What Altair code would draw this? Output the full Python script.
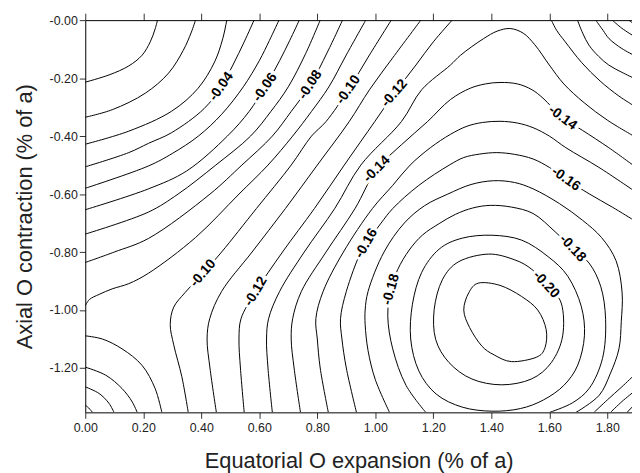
import altair as alt
import pandas as pd

X_MAX = 1.885
Y_MIN = -1.353

# ---- contour lines (x = equatorial expansion, y = axial contraction) ----
c01_x = [0, 0.082, 0.150, 0.196, 0.224, 0.241, 0.249]
c01_y = [-0.214, -0.189, -0.158, -0.121, -0.075, -0.030, 0]
c02_x = [0, 0.093, 0.207, 0.287, 0.338, 0.366, 0.380]
c02_y = [-0.335, -0.309, -0.252, -0.183, -0.104, -0.041, 0]
c03_x = [0, 0.150, 0.298, 0.389, 0.446, 0.474, 0.488]
c03_y = [-0.428, -0.383, -0.314, -0.235, -0.144, -0.064, 0]
c04_x = [0, 0.150, 0.218, 0.298, 0.41, 0.469, 0.509, 0.548, 0.582]
c04_y = [-0.506, -0.457, -0.425, -0.388, -0.305, -0.229, -0.155, -0.075, 0]
c05_x = [0, 0.218, 0.30, 0.39, 0.47, 0.545, 0.60, 0.635, 0.668]
c05_y = [-0.580, -0.503, -0.46, -0.40, -0.325, -0.23, -0.14, -0.07, 0]
c06_x = [0, 0.218, 0.35, 0.49, 0.565, 0.62, 0.67, 0.705, 0.738]
c06_y = [-0.654, -0.582, -0.52, -0.40, -0.315, -0.23, -0.14, -0.07, 0]
c07_x = [0, 0.218, 0.32, 0.45, 0.57, 0.64, 0.70, 0.76, 0.810]
c07_y = [-0.738, -0.662, -0.60, -0.50, -0.40, -0.315, -0.23, -0.115, 0]
c08_x = [0, 0.10, 0.218, 0.43, 0.54, 0.645, 0.71, 0.776, 0.835, 0.887]
c08_y = [-0.836, -0.80, -0.753, -0.60, -0.50, -0.40, -0.315, -0.223, -0.11, 0]
c09_x = [0, 0.014, 0.048, 0.093, 0.150, 0.218, 0.38, 0.53, 0.63, 0.715, 0.78, 0.84, 0.90, 0.967]
c09_y = [-0.986, -0.964, -0.946, -0.927, -0.909, -0.873, -0.75, -0.60, -0.50, -0.40, -0.315, -0.23, -0.12, 0]
c10_x = [0.355, 0.333, 0.305, 0.293, 0.305, 0.344, 0.406, 0.47, 0.59, 0.71, 0.78, 0.83, 0.907, 0.98, 1.055]
c10_y = [-1.353, -1.23, -1.12, -1.05, -0.99, -0.94, -0.873, -0.80, -0.65, -0.50, -0.40, -0.35, -0.24, -0.12, 0]
c11_x = [0.452, 0.43, 0.42, 0.429, 0.47, 0.575, 0.69, 0.80, 0.91, 0.98, 1.06, 1.157]
c11_y = [-1.353, -1.2, -1.1, -1.03, -0.936, -0.80, -0.65, -0.50, -0.35, -0.24, -0.13, 0]
c12_x = [0.548, 0.535, 0.53, 0.537, 0.588, 0.68, 0.79, 0.893, 0.998, 1.066, 1.14, 1.20, 1.265]
c12_y = [-1.353, -1.2, -1.1, -1.03, -0.936, -0.80, -0.65, -0.50, -0.35, -0.252, -0.155, -0.075, 0]
c13_x = [0.645, 0.63, 0.625, 0.632, 0.67, 0.755, 0.86, 0.95, 1.09, 1.16, 1.259, 1.294, 1.373,
         1.42, 1.465, 1.51, 1.55, 1.60, 1.65, 1.72, 1.80, 1.891]
c13_y = [-1.353, -1.2, -1.1, -1.03, -0.936, -0.80, -0.65, -0.50, -0.35, -0.24, -0.155, -0.121, -0.064,
         -0.038, -0.029, -0.045, -0.085, -0.155, -0.22, -0.285, -0.345, -0.40]
c14_x = [0.742, 0.72, 0.71, 0.715, 0.745, 0.83, 0.93, 1.005, 1.09, 1.18, 1.259, 1.327, 1.38, 1.43,
         1.49, 1.54, 1.578, 1.646, 1.714, 1.805, 1.891]
c14_y = [-1.353, -1.2, -1.1, -1.03, -0.936, -0.80, -0.65, -0.514, -0.43, -0.35, -0.274, -0.235, -0.220,
         -0.215, -0.220, -0.240, -0.269, -0.337, -0.38, -0.44, -0.502]
c15_x = [0.838, 0.81, 0.80, 0.795, 0.82, 0.89, 0.99, 1.06, 1.12, 1.19, 1.259, 1.316, 1.37, 1.43,
         1.49, 1.544, 1.60, 1.657, 1.771, 1.891]
c15_y = [-1.353, -1.2, -1.1, -1.03, -0.936, -0.80, -0.65, -0.57, -0.50, -0.44, -0.394, -0.366, -0.353,
         -0.349, -0.355, -0.371, -0.40, -0.440, -0.508, -0.588]
c16_x = [0.935, 0.90, 0.885, 0.88, 0.90, 0.95, 0.969, 1.02, 1.06, 1.15, 1.255, 1.305, 1.36, 1.419,
         1.48, 1.544, 1.60, 1.657, 1.737, 1.817, 1.891]
c16_y = [-1.353, -1.2, -1.1, -1.03, -0.936, -0.80, -0.77, -0.70, -0.65, -0.57, -0.50, -0.474, -0.462,
         -0.457, -0.463, -0.479, -0.508, -0.548, -0.599, -0.645, -0.690]
c17_x = [1.049, 1.0, 0.975, 0.965, 0.965, 0.975, 1.03, 1.10, 1.17, 1.25, 1.33, 1.407, 1.48, 1.544,
         1.635, 1.714, 1.78, 1.83, 1.851, 1.848, 1.840, 1.81, 1.772, 1.692]
c17_y = [-1.353, -1.24, -1.14, -1.05, -1.0, -0.936, -0.80, -0.70, -0.64, -0.60, -0.567, -0.554, -0.560,
         -0.582, -0.633, -0.690, -0.75, -0.83, -0.941, -1.04, -1.134, -1.22, -1.294, -1.353]
c18_x = [1.174, 1.106, 1.06, 1.043, 1.054, 1.077, 1.117, 1.163, 1.22, 1.276, 1.336, 1.396, 1.47,
         1.544, 1.62, 1.680, 1.737, 1.777, 1.794, 1.783, 1.737, 1.68, 1.601]
c18_y = [-1.353, -1.26, -1.134, -1.02, -0.929, -0.861, -0.793, -0.741, -0.702, -0.670, -0.648, -0.639,
         -0.645, -0.667, -0.73, -0.787, -0.838, -0.918, -1.032, -1.168, -1.271, -1.32, -1.353]
# top-right corner
t08_x = [1.874, 1.883, 1.891]
t08_y = [0, -0.007, -0.013]
t09_x = [1.817, 1.85, 1.891]
t09_y = [0, -0.028, -0.055]
t10_x = [1.760, 1.785, 1.806, 1.85, 1.891]
t10_y = [0, -0.035, -0.064, -0.098, -0.121]
t11_x = [1.697, 1.715, 1.737, 1.77, 1.805, 1.85, 1.891]
t11_y = [0, -0.045, -0.087, -0.125, -0.155, -0.18, -0.200]
t12_x = [1.607, 1.625, 1.655, 1.712, 1.775, 1.84, 1.891]
t12_y = [0, -0.035, -0.075, -0.147, -0.21, -0.262, -0.295]
# bottom-right corner
b16_x = [1.754, 1.80, 1.85, 1.891]
b16_y = [-1.353, -1.31, -1.265, -1.226]
b15_x = [1.811, 1.85, 1.891]
b15_y = [-1.353, -1.316, -1.282]
b14_x = [1.868, 1.891]
b14_y = [-1.353, -1.329]
# bottom-left corner
l06_x = [0, 0.012, 0.025]
l06_y = [-1.328, -1.338, -1.353]
l07_x = [0, 0.048, 0.082, 0.099]
l07_y = [-1.265, -1.288, -1.322, -1.353]
l08_x = [0, 0.071, 0.127, 0.162, 0.179]
l08_y = [-1.197, -1.225, -1.271, -1.317, -1.353]
l09_x = [0, 0.059, 0.127, 0.196, 0.241, 0.264]
l09_y = [-1.089, -1.100, -1.134, -1.191, -1.271, -1.353]
# closed loops around the minimum
o19_x = [1.402, 1.505, 1.596, 1.664, 1.710, 1.721, 1.698, 1.65, 1.58, 1.50, 1.402, 1.30, 1.21, 1.15,
         1.122, 1.128, 1.16, 1.22, 1.30]
o19_y = [-0.742, -0.759, -0.816, -0.884, -0.987, -1.089, -1.19, -1.26, -1.31, -1.34, -1.349, -1.335,
         -1.29, -1.21, -1.10, -0.98, -0.87, -0.79, -0.752]
o20_x = [1.589, 1.641, 1.646, 1.607, 1.538, 1.436, 1.333, 1.254, 1.208, 1.203, 1.231, 1.288, 1.391,
         1.481, 1.54]
o20_y = [-0.912, -0.976, -1.089, -1.181, -1.238, -1.258, -1.238, -1.181, -1.101, -0.998, -0.896,
         -0.833, -0.807, -0.827, -0.86]
o21_x = [1.356, 1.43, 1.504, 1.56, 1.589, 1.585, 1.555, 1.47, 1.41, 1.367, 1.325, 1.305, 1.322]
o21_y = [-0.907, -0.915, -0.953, -1.0, -1.067, -1.13, -1.163, -1.178, -1.155, -1.124, -1.06, -1.0,
         -0.941]

# ---- contour labels ----
label_text = ["-0.04", "-0.06", "-0.08", "-0.10", "-0.12", "-0.14", "-0.14", "-0.16",
              "-0.16", "-0.18", "-0.18", "-0.20", "-0.10", "-0.12"]
label_x = [0.469, 0.62, 0.776, 0.907, 1.066, 1.005, 1.646, 1.657, 0.969, 1.054, 1.680, 1.589,
           0.406, 0.588]
label_y = [-0.229, -0.232, -0.223, -0.240, -0.252, -0.514, -0.337, -0.548, -0.770, -0.929,
           -0.787, -0.912, -0.873, -0.936]
label_angle = [305, 305, 303, 305, 311, 315, 37, 35, 300, 286, 47, 47, 311, 301]

x_ticks = [0, 0.2, 0.4, 0.6, 0.8, 1.0, 1.2, 1.4, 1.6, 1.8]
y_ticks = [0, -0.2, -0.4, -0.6, -0.8, -1.0, -1.2]

open_segments = [
    ("c01", c01_x, c01_y), ("c02", c02_x, c02_y), ("c03", c03_x, c03_y), ("c04", c04_x, c04_y),
    ("c05", c05_x, c05_y), ("c06", c06_x, c06_y), ("c07", c07_x, c07_y), ("c08", c08_x, c08_y),
    ("c09", c09_x, c09_y), ("c10", c10_x, c10_y), ("c11", c11_x, c11_y), ("c12", c12_x, c12_y),
    ("c13", c13_x, c13_y), ("c14", c14_x, c14_y), ("c15", c15_x, c15_y), ("c16", c16_x, c16_y),
    ("c17", c17_x, c17_y), ("c18", c18_x, c18_y),
    ("t08", t08_x, t08_y), ("t09", t09_x, t09_y), ("t10", t10_x, t10_y), ("t11", t11_x, t11_y),
    ("t12", t12_x, t12_y), ("b16", b16_x, b16_y), ("b15", b15_x, b15_y), ("b14", b14_x, b14_y),
    ("l06", l06_x, l06_y), ("l07", l07_x, l07_y), ("l08", l08_x, l08_y), ("l09", l09_x, l09_y),
]
closed_segments = [("o19", o19_x, o19_y), ("o20", o20_x, o20_y), ("o21", o21_x, o21_y)]


def to_frame(segs):
    rows = []
    for name, xs, ys in segs:
        for i, (x, y) in enumerate(zip(xs, ys)):
            rows.append({"seg": name, "i": i, "x": x, "y": y})
    return pd.DataFrame(rows)


open_df = to_frame(open_segments)
closed_df = to_frame(closed_segments)
label_df = pd.DataFrame({"text": label_text, "x": label_x, "y": label_y, "angle": label_angle})

FONT = "Liberation Sans"
xscale = alt.Scale(domain=[0, X_MAX], nice=False, zero=False)
yscale = alt.Scale(domain=[Y_MIN, 0], nice=False, zero=False)

x_bottom = alt.X("x:Q", scale=xscale, axis=alt.Axis(
    orient="bottom", values=x_ticks, format=".2f", tickSize=6, labelPadding=3,
    labelFlush=False, title="Equatorial O expansion (% of a)", titleY=56,
    titleBaseline="alphabetic", grid=False))
x_top = alt.X("x:Q", scale=xscale, axis=alt.Axis(
    orient="top", values=x_ticks, labels=False, tickSize=7, title=None, grid=False))
x_none = alt.X("x:Q", scale=xscale, axis=None)


def y_left():
    return alt.Y("y:Q", scale=yscale, axis=alt.Axis(
        orient="left", values=y_ticks,
        labelExpr="'-' + format(abs(datum.value), '.2f')",
        tickSize=6, labelPadding=2, labelFlush=False,
        title="Axial O contraction (% of a)", titleAngle=270,
        titleX=-54, titleY=198, titleBaseline="alphabetic", titleAlign="center",
        grid=False))


lines = alt.Chart(open_df).mark_line(
    color="black", strokeWidth=1, interpolate="catmull-rom", clip=True
).encode(x=x_bottom, y=y_left(), detail="seg:N", order="i:Q")

loops = alt.Chart(closed_df).mark_line(
    color="black", strokeWidth=1, interpolate="cardinal-closed", clip=True
).encode(x=x_none, y=y_left(), detail="seg:N", order="i:Q")

halo = alt.Chart(label_df).mark_text(
    font=FONT, fontSize=14, fontWeight="bold", color="white", stroke="white",
    strokeWidth=6, align="center", baseline="middle"
).encode(x=x_top, y=y_left(), text="text:N", angle=alt.Angle("angle:Q", scale=None))

labels = alt.Chart(label_df).mark_text(
    font=FONT, fontSize=14, fontWeight="bold", color="black", align="center",
    baseline="middle"
).encode(x=x_none, y=y_left(), text="text:N", angle=alt.Angle("angle:Q", scale=None))

chart = alt.layer(lines, loops, halo, labels).properties(
    width=552, height=396,
    autosize=alt.AutoSizeParams(type="none"),
    padding={"left": 78, "top": 10, "right": 0, "bottom": 62},
).configure_view(stroke=None).configure_axis(
    domainColor="black", domainWidth=1, tickColor="#333", tickWidth=1,
    labelFont=FONT, labelFontSize=12.5, labelColor="#222",
    titleFont=FONT, titleFontSize=22, titleFontWeight="normal", titleColor="#222",
)

chart.save("out.html", embed_options={"renderer": "svg", "actions": False})
